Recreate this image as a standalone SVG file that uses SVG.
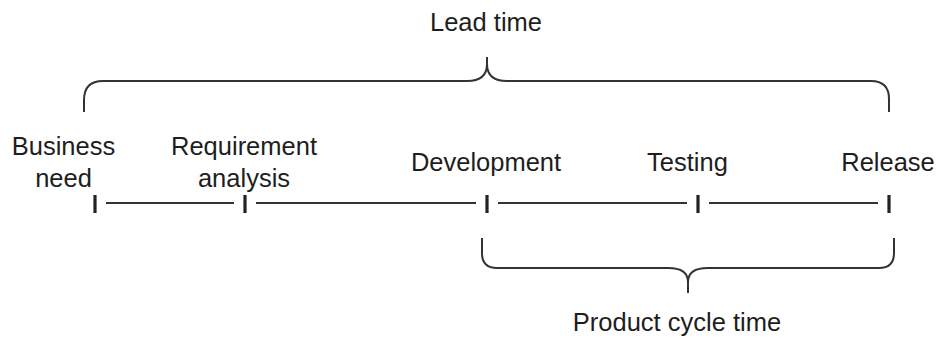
<svg xmlns="http://www.w3.org/2000/svg" width="937" height="340" viewBox="0 0 937 340">
  <style>
    .lbl { font-family: "Liberation Sans", Arial, Helvetica, sans-serif; font-size: 25.5px; fill: #1e1e1e; text-anchor: middle; }
    .brace { fill: none; stroke: #333; stroke-width: 2; stroke-linejoin: round; }
    .axis { stroke: #333; stroke-width: 2; fill: none; }
    .tick { stroke: #222; stroke-width: 3.2; }
  </style>
  <rect width="937" height="340" fill="#ffffff"/>

  <!-- Braces and timeline segments -->
  <g id="connectors">
    <path class="brace" d="M84,112 V100 Q84,81 103,81 H467 Q487,81 487,64 Q487,81 507,81 H871 Q889,81 889,99 V112 M487,64 V57"/>
    <path class="brace" d="M482,238 V253 Q482,268 497,268 H668 Q688,268 688,282 Q688,268 708,268 H879 Q894,268 894,253 V238 M688,282 V293"/>
    <line class="axis" x1="106" y1="203" x2="234" y2="203"/>
    <line class="axis" x1="256" y1="203" x2="476" y2="203"/>
    <line class="axis" x1="498" y1="203" x2="687" y2="203"/>
    <line class="axis" x1="709" y1="203" x2="878" y2="203"/>
  </g>

  <g id="lead-time">
    <text class="lbl" x="486" y="31">Lead time</text>
  </g>
  <g id="business-need">
    <line class="tick" x1="95" y1="195" x2="95" y2="213"/>
    <text class="lbl" x="63.5" y="155">Business</text>
    <text class="lbl" x="63.5" y="187">need</text>
  </g>
  <g id="requirement-analysis">
    <line class="tick" x1="245" y1="195" x2="245" y2="213"/>
    <text class="lbl" x="244" y="155">Requirement</text>
    <text class="lbl" x="244" y="187">analysis</text>
  </g>
  <g id="development">
    <line class="tick" x1="487" y1="195" x2="487" y2="213"/>
    <text class="lbl" x="486" y="171">Development</text>
  </g>
  <g id="testing">
    <line class="tick" x1="698" y1="195" x2="698" y2="213"/>
    <text class="lbl" x="687.5" y="171">Testing</text>
  </g>
  <g id="release">
    <line class="tick" x1="889" y1="195" x2="889" y2="213"/>
    <text class="lbl" x="888" y="171">Release</text>
  </g>
  <g id="product-cycle-time">
    <text class="lbl" x="677" y="331">Product cycle time</text>
  </g>
</svg>
